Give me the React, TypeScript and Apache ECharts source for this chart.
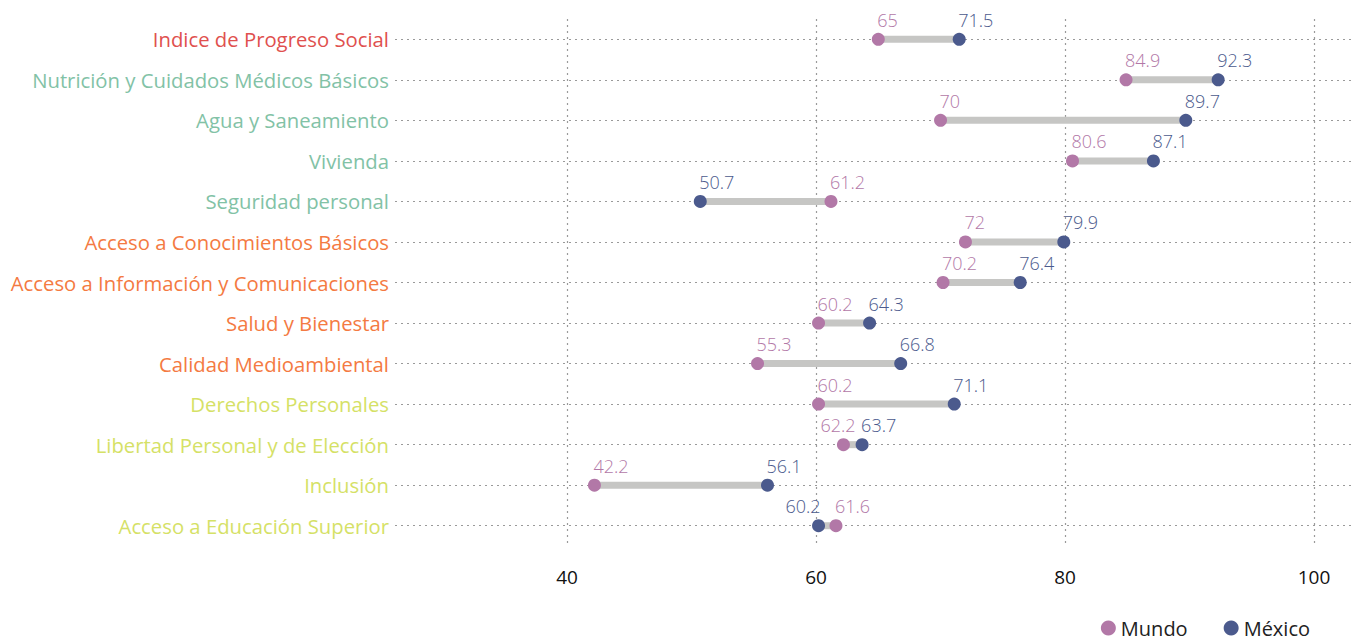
import React, { useEffect, useRef } from "react";
import * as echarts from "echarts";

const categories = [
  "Indice de Progreso Social",
  "Nutrición y Cuidados Médicos Básicos",
  "Agua y Saneamiento",
  "Vivienda",
  "Seguridad personal",
  "Acceso a Conocimientos Básicos",
  "Acceso a Información y Comunicaciones",
  "Salud y Bienestar",
  "Calidad Medioambiental",
  "Derechos Personales",
  "Libertad Personal y de Elección",
  "Inclusión",
  "Acceso a Educación Superior",
];
const categoryGroups = ["ips", "nb", "nb", "nb", "nb", "fb", "fb", "fb", "fb", "op", "op", "op", "op"];
const mundo = [65, 84.9, 70, 80.6, 61.2, 72, 70.2, 60.2, 55.3, 60.2, 62.2, 42.2, 61.6];
const mexico = [71.5, 92.3, 89.7, 87.1, 50.7, 79.9, 76.4, 64.3, 66.8, 71.1, 63.7, 56.1, 60.2];
const xTicks = [40, 60, 80, 100];

const groupColors: Record<string, string> = {
  ips: "#e0504e",
  nb: "#82c2a6",
  fb: "#f47a42",
  op: "#d5e166",
};
const MUNDO_COLOR = "#b278a7";
const MEXICO_COLOR = "#4b5a8d";
const FONT = "Open Sans";
const DOTTED = { type: [2, 4], color: "#9a9a9a", width: 1.2 };

export default function App() {
  const ref = useRef<HTMLDivElement>(null);
  useEffect(() => {
    if (!ref.current) return;
    const chart = echarts.init(ref.current, null, { renderer: "svg" });

    const mundoData = mundo.map((v, i) => {
      const item: any = { value: [v, categories[i]] };
      if (Math.abs(v - mexico[i]) < 3 && v < mexico[i]) {
        item.label = { offset: [-23, 0] };
      }
      return item;
    });
    const mexicoData = mexico.map((v, i) => {
      const item: any = { value: [v, categories[i]] };
      if (Math.abs(v - mundo[i]) < 3 && v < mundo[i]) {
        item.label = { align: "right", offset: [2, 0] };
      }
      return item;
    });

    const valueLabel = (color: string) => ({
      show: true,
      position: "top",
      align: "left",
      distance: 4,
      offset: [-1, 0],
      color,
      fontSize: 18,
      fontWeight: 300,
      fontFamily: FONT,
      formatter: (p: any) => String(p.value[0]),
    });

    const option: any = {
      animation: false,
      textStyle: { fontFamily: FONT },
      grid: { left: 395, right: 0, top: 19, bottom: 96, containLabel: false },
      xAxis: {
        type: "value",
        min: 26.18,
        max: 103.13,
        axisLine: { show: false },
        axisTick: { show: false, customValues: xTicks },
        axisLabel: {
          customValues: xTicks,
          color: "#111",
          fontSize: 19,
          fontFamily: FONT,
          margin: 21,
        },
        splitLine: { show: true, lineStyle: DOTTED },
      },
      yAxis: {
        type: "category",
        data: categories,
        inverse: true,
        axisLine: { show: false },
        axisTick: { show: false },
        splitLine: { show: false },
        axisLabel: {
          margin: 6,
          fontSize: 20.3,
          fontWeight: 400,
          fontFamily: FONT,
          color: (_v: any, idx: number) => groupColors[categoryGroups[idx]],
        },
      },
      legend: {
        data: ["Mundo", "México"],
        right: 38,
        top: 613,
        icon: "circle",
        itemWidth: 15,
        itemHeight: 15,
        itemGap: 36,
        textStyle: { fontSize: 20, color: "#222", fontFamily: FONT },
      },
      series: [
        {
          type: "line",
          name: "guias",
          data: [],
          silent: true,
          z: 0,
          markLine: {
            silent: true,
            z: 0,
            symbol: ["none", "none"],
            label: { show: false },
            lineStyle: DOTTED,
            data: categories.map((c) => ({ yAxis: c })),
          },
        },
        {
          type: "custom",
          name: "rango",
          silent: true,
          data: categories.map((c, i) => [i, mundo[i], mexico[i]]),
          renderItem: (params: any, api: any) => {
            const idx = api.value(0);
            const a = api.coord([api.value(1), idx]);
            const b = api.coord([api.value(2), idx]);
            return {
              type: "line",
              shape: { x1: a[0], y1: a[1], x2: b[0], y2: b[1] },
              style: { stroke: "#c6c6c4", lineWidth: 7 },
            };
          },
          encode: { x: [1, 2], y: 0 },
          z: 2,
        },
        {
          type: "scatter",
          name: "Mundo",
          data: mundoData,
          symbolSize: 13,
          itemStyle: { color: MUNDO_COLOR, opacity: 1 },
          label: valueLabel(MUNDO_COLOR),
          z: 3,
        },
        {
          type: "scatter",
          name: "México",
          data: mexicoData,
          symbolSize: 13,
          itemStyle: { color: MEXICO_COLOR, opacity: 1 },
          label: valueLabel(MEXICO_COLOR),
          z: 3,
        },
      ],
    };
    chart.setOption(option);
    return () => chart.dispose();
  }, []);

  return (
    <div
      ref={ref}
      style={{ position: "fixed", left: 0, top: 0, width: 1353, height: 642, background: "#fff" }}
    />
  );
}
